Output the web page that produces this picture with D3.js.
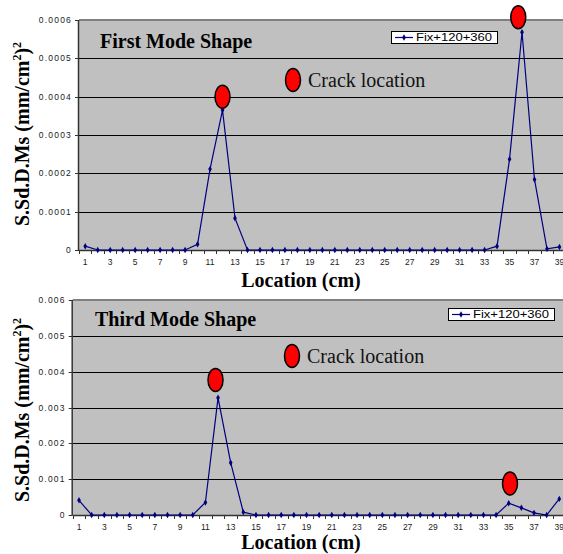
<!DOCTYPE html>
<html>
<head>
<meta charset="utf-8">
<script src="https://cdn.jsdelivr.net/npm/d3@7"></script>
<style>
  body { margin: 0; background: #fff; }
  svg { display: block; }
</style>
</head>
<body>
<svg width="563" height="554"></svg>
<script>
const locations = [1, 2, 3, 4, 5, 6, 7, 8, 9, 10, 11, 12, 13, 14, 15, 16, 17, 18, 19, 20,
    21, 22, 23, 24, 25, 26, 27, 28, 29, 30, 31, 32, 33, 34, 35, 36, 37, 38, 39];

const firstMode = [0.00001, 0, 0, 0, 0, 0, 0, 0, 0, 0.000015, 0.000211, 0.000365, 0.000083,
    0, 0, 0, 0, 0, 0, 0, 0, 0, 0, 0, 0, 0, 0, 0, 0, 0, 0, 0, 0,
    0.00001, 0.000237, 0.000568, 0.000184, 0.000003, 0.000008];

const thirdMode = [0.00041, 0, 0, 0, 0, 0, 0, 0, 0, 0, 0.00035, 0.00327, 0.00146, 0.00008,
    0, 0, 0, 0, 0, 0, 0, 0, 0, 0, 0, 0, 0, 0, 0, 0, 0, 0, 0, 0,
    0.00033, 0.0002, 0.00006, 0, 0.00045];

const firstTicks = [0, 0.0001, 0.0002, 0.0003, 0.0004, 0.0005, 0.0006];
const thirdTicks = [0, 0.001, 0.002, 0.003, 0.004, 0.005, 0.006];

// crack markers: [location, value]
const firstCracks = [[12, 0.0004], [35.7, 0.000607]];
const thirdCracks = [[11.8, 0.00377], [35.1, 0.00088]];

const seriesName = 'Fix+120+360';
const navy = '#000080';
const SANS = '"Liberation Sans", Arial, Helvetica, sans-serif';
const SERIF = '"Liberation Serif", "Times New Roman", Times, "DejaVu Serif", serif';

const svg = d3.select('svg');

function drawPanel(opt) {
    const g = svg.append('g');
    const x = d3.scaleLinear().domain([0.5, 39.5]).range([opt.left, opt.right]);
    const y = d3.scaleLinear().domain([0, opt.ticks[opt.ticks.length - 1]]).range([opt.bottom, opt.top]);

    // plot background
    g.append('rect')
        .attr('x', opt.left).attr('y', opt.top)
        .attr('width', opt.right - opt.left).attr('height', opt.bottom - opt.top)
        .attr('fill', '#c0c0c0');

    // grid
    g.selectAll('.grid').data(opt.ticks.slice(1, -1)).join('line')
        .attr('x1', opt.left).attr('x2', opt.right)
        .attr('y1', d => Math.round(y(d)) + 0.5).attr('y2', d => Math.round(y(d)) + 0.5)
        .attr('stroke', '#000').attr('stroke-width', 1);

    // top border
    g.append('line')
        .attr('x1', opt.left).attr('x2', opt.right)
        .attr('y1', opt.top).attr('y2', opt.top)
        .attr('stroke', '#808080').attr('stroke-width', 2);

    // y axis
    g.append('line')
        .attr('x1', opt.left - 0.5).attr('x2', opt.left - 0.5)
        .attr('y1', opt.top).attr('y2', opt.bottom)
        .attr('stroke', '#333').attr('stroke-width', 1.5);
    g.selectAll('.ytick').data(opt.ticks).join('line')
        .attr('x1', opt.left - 4).attr('x2', opt.left)
        .attr('y1', d => Math.round(y(d)) + 0.5).attr('y2', d => Math.round(y(d)) + 0.5)
        .attr('stroke', '#333');
    g.selectAll('.ylab').data(opt.ticks).join('text')
        .attr('font-family', SANS).attr('font-size', 8.5).attr('fill', '#222')
        .attr('letter-spacing', 1.2)
        .attr('x', opt.left - 7).attr('y', d => y(d) + 3)
        .attr('text-anchor', 'end')
        .text(d => d === 0 ? '0' : d3.format(opt.fmt)(d));

    // x axis
    g.append('line')
        .attr('x1', opt.left).attr('x2', opt.right)
        .attr('y1', opt.bottom + 0.5).attr('y2', opt.bottom + 0.5)
        .attr('stroke', '#333').attr('stroke-width', 1.5);
    const bounds = locations.map(d => d - 0.5).concat([39.5]);
    g.selectAll('.xtick').data(bounds).join('line')
        .attr('x1', d => Math.round(x(d)) + 0.5).attr('x2', d => Math.round(x(d)) + 0.5)
        .attr('y1', opt.bottom).attr('y2', opt.bottom + 4)
        .attr('stroke', '#333');
    g.selectAll('.xlab').data(locations.filter(d => d % 2 === 1)).join('text')
        .attr('font-family', SANS).attr('font-size', 8.5).attr('fill', '#222')
        .attr('x', d => x(d)).attr('y', opt.bottom + 15)
        .attr('text-anchor', 'middle')
        .text(d => d);

    // series
    const line = d3.line()
        .x((d, i) => x(locations[i]))
        .y(d => y(d));
    g.append('path')
        .datum(opt.values)
        .attr('d', line)
        .attr('fill', 'none')
        .attr('stroke', navy)
        .attr('stroke-width', 1.2);
    g.selectAll('.pt').data(opt.values).join('path')
        .attr('transform', (d, i) => `translate(${x(locations[i])},${y(d)})`)
        .attr('d', d3.symbol(d3.symbolDiamond, 12))
        .attr('fill', navy);

    // crack markers
    g.selectAll('.crack').data(opt.cracks).join('ellipse')
        .attr('cx', d => x(d[0])).attr('cy', d => y(d[1]))
        .attr('rx', 7.5).attr('ry', 11.5)
        .attr('fill', '#ff0000').attr('stroke', '#000').attr('stroke-width', 1.5);

    // title
    g.append('text')
        .attr('font-family', SERIF).attr('font-weight', 'bold').attr('font-size', 20)
        .attr('x', opt.titleX).attr('y', opt.titleY)
        .text(opt.title);

    // crack location key
    g.append('ellipse')
        .attr('cx', opt.keyX).attr('cy', opt.keyY)
        .attr('rx', 7.5).attr('ry', 11.5)
        .attr('fill', '#ff0000').attr('stroke', '#000').attr('stroke-width', 1.5);
    g.append('text')
        .attr('font-family', SERIF).attr('font-size', 20).attr('fill', '#111')
        .attr('x', opt.keyX + 15).attr('y', opt.keyY + 7)
        .text('Crack location');

    // series legend
    const lg = g.append('g').attr('transform', `translate(${opt.legX},${opt.legY})`);
    lg.append('rect')
        .attr('x', 0.5).attr('y', 0.5).attr('width', 106).attr('height', 12)
        .attr('fill', '#fff').attr('stroke', '#000');
    lg.append('line')
        .attr('x1', 4).attr('x2', 22).attr('y1', 6.5).attr('y2', 6.5)
        .attr('stroke', navy).attr('stroke-width', 1.2);
    lg.append('path')
        .attr('transform', 'translate(13,6.5)')
        .attr('d', d3.symbol(d3.symbolDiamond, 12))
        .attr('fill', navy);
    lg.append('text')
        .attr('font-family', SANS).attr('font-size', 10).attr('fill', '#000')
        .attr('x', 25).attr('y', 10)
        .attr('textLength', 76).attr('lengthAdjust', 'spacingAndGlyphs')
        .text(seriesName);

    // axis titles
    g.append('text')
        .attr('font-family', SERIF).attr('font-weight', 'bold').attr('font-size', 20)
        .attr('x', 301).attr('y', opt.xTitleY)
        .attr('text-anchor', 'middle')
        .text('Location (cm)');

    const yt = g.append('text')
        .attr('font-family', SERIF).attr('font-weight', 'bold').attr('font-size', 20)
        .attr('transform', `translate(${opt.yTitleX},${opt.yTitleMid}) rotate(-90)`)
        .attr('text-anchor', 'middle');
    yt.append('tspan').text('S.Sd.D.Ms (mm/cm');
    yt.append('tspan').attr('font-size', 12).attr('dy', -8).text('2');
    yt.append('tspan').attr('dy', 8).text(')');
    yt.append('tspan').attr('font-size', 12).attr('dy', -8).text('2');
}

drawPanel({
    values: firstMode, ticks: firstTicks, fmt: '.4f', cracks: firstCracks,
    left: 79, right: 565.7, top: 20, bottom: 250,
    title: 'First Mode Shape', titleX: 100, titleY: 48,
    keyX: 293, keyY: 80, legX: 391, legY: 31,
    xTitleY: 287, yTitleX: 29, yTitleMid: 134
});

drawPanel({
    values: thirdMode, ticks: thirdTicks, fmt: '.3f', cracks: thirdCracks,
    left: 72.7, right: 565.6, top: 300, bottom: 515,
    title: 'Third Mode Shape', titleX: 95, titleY: 326,
    keyX: 292, keyY: 356, legX: 448, legY: 308,
    xTitleY: 549, yTitleX: 29, yTitleMid: 410
});
</script>
</body>
</html>
